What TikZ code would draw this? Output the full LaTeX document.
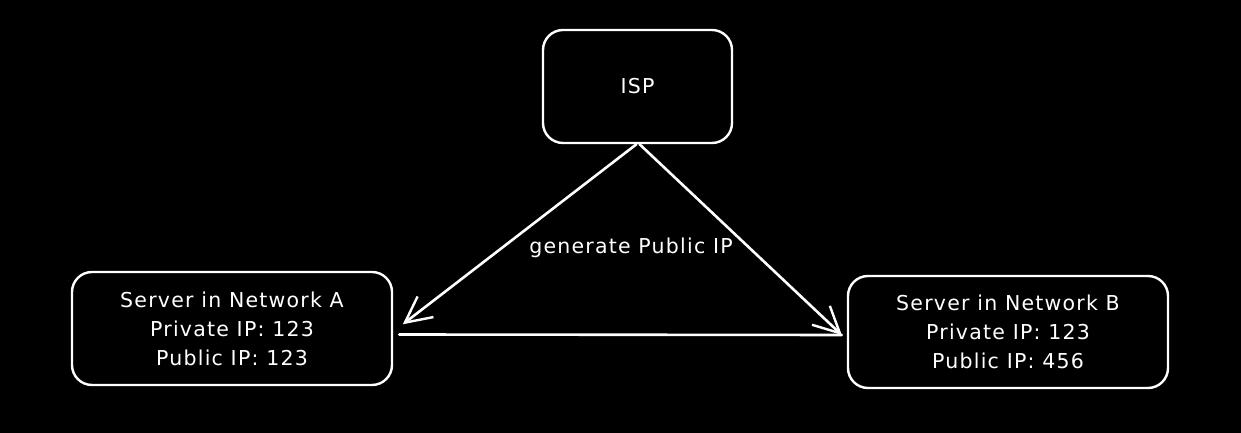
\documentclass[tikz,border=0pt]{standalone}
\usepackage{fontspec}
\setmainfont{DejaVu Sans}[LetterSpace=6]
\usetikzlibrary{arrows.meta}
\begin{document}
\begin{tikzpicture}[x=1pt,y=1pt,
  box/.style={draw=white, line width=2.4pt, rounded corners=20pt, fill=black,
    text=white, align=center, inner sep=0pt, font=\fontsize{20.5}{29}\selectfont},
  link/.style={draw=white, line width=2.6pt, line cap=round},
  arrowlink/.style={link, -{Straight Barb[length=26pt,width=26pt,line width=2.4pt]}},
  caption/.style={text=white, font=\fontsize{20.5}{24}\selectfont, inner sep=0pt}]
  % canvas
  \fill[black] (0,0) rectangle (1241,433);
  \useasboundingbox (0,0) rectangle (1241,433);
  % boxes
  \node[box, minimum width=189pt, minimum height=113pt] (isp) at (637.5,346.5) {ISP};
  \node[box, minimum width=320pt, minimum height=113pt] (srvA) at (232,104.5)
    {Server in Network A\\Private IP: 123\\Public IP: 123};
  \node[box, minimum width=320pt, minimum height=112pt] (srvB) at (1008,101)
    {Server in Network B\\Private IP: 123\\Public IP: 456};
  % connectors
  \coordinate (aEnd) at ([shift={(6,-6)}]srvA.east);
  \coordinate (bEnd) at ([shift={(-5,-3)}]srvB.west);
  \draw[arrowlink, shorten >=2pt] ([xshift=-1pt]isp.south) -- ([shift={(8,3)}]srvA.east);
  \draw[arrowlink] ([xshift=2pt]isp.south) -- (bEnd);
  \draw[link] (aEnd) -- (bEnd);
  % label
  \node[caption] (lbl) at (631,185) {generate Public IP};
\end{tikzpicture}
\end{document}
